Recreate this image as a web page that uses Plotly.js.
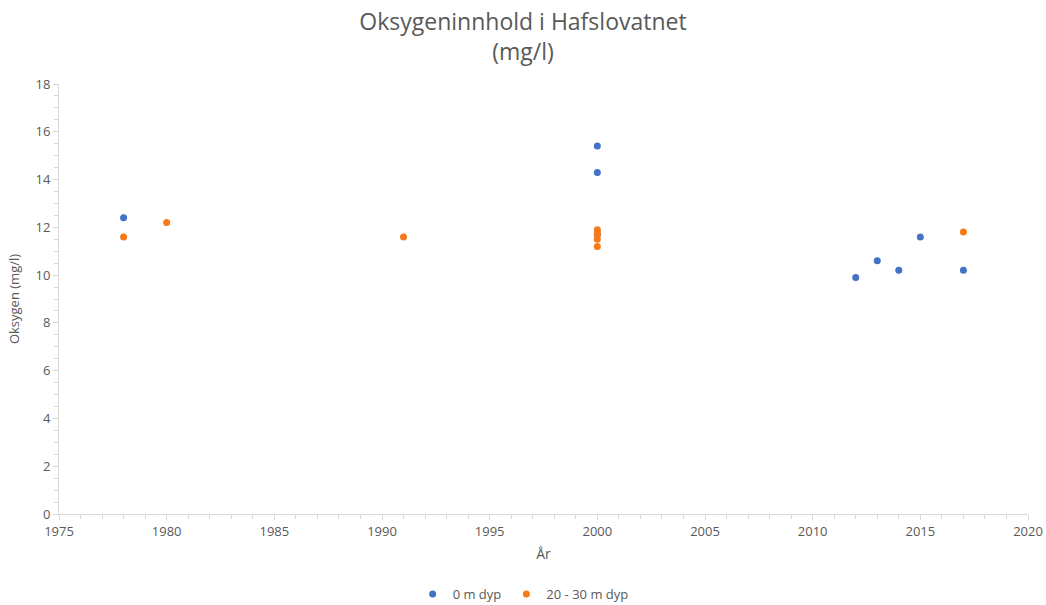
<!DOCTYPE html>
<html>
<head>
<meta charset="utf-8">
<script src="https://cdn.plot.ly/plotly-3.0.1.min.js"></script>
<style>html,body{margin:0;padding:0;background:#fff;}#chart{width:1046px;height:605px;}</style>
</head>
<body>
<div id="chart"></div>
<script>
const surfaceYears = [1978, 2000, 2000, 2000, 2012, 2013, 2014, 2015, 2017];
const surfaceValues = [12.4, 15.4, 14.3, 11.7, 9.9, 10.6, 10.2, 11.6, 10.2];
const deepYears = [1978, 1980, 1991, 2000, 2000, 2000, 2000, 2000, 2017];
const deepValues = [11.6, 12.2, 11.6, 11.9, 11.8, 11.7, 11.5, 11.2, 11.8];
const seriesNames = ["0 m dyp", "20 - 30 m dyp"];
const xTicks = [1975, 1980, 1985, 1990, 1995, 2000, 2005, 2010, 2015, 2020];
const yTicks = [0, 2, 4, 6, 8, 10, 12, 14, 16, 18];

const fontFam = "Open Sans, Lato, sans-serif";
const traces = [
  {x: surfaceYears, y: surfaceValues, name: seriesNames[0], mode: "markers", type: "scatter",
   marker: {color: "#4472C4", size: 7}},
  {x: deepYears, y: deepValues, name: seriesNames[1], mode: "markers", type: "scatter",
   marker: {color: "#F7791A", size: 7}}
];
const axisCommon = {
  showgrid: false, zeroline: false, showline: true, linecolor: "#D9D9D9", linewidth: 1,
  ticks: "outside", tickcolor: "#D9D9D9", ticklen: 5, automargin: false,
  tickfont: {family: fontFam, size: 13, color: "#595959"}
};
const layout = {
  width: 1046, height: 605,
  margin: {l: 59, r: 18, t: 84, b: 91},
  paper_bgcolor: "#fff", plot_bgcolor: "#fff",
  title: {text: "Oksygeninnhold i Hafslovatnet<br>(mg/l)", x: 0.5, xanchor: "center",
          yref: "container", y: 1 - 30/605, yanchor: "middle",
          font: {family: fontFam, size: 23, color: "#595959"}},
  xaxis: Object.assign({}, axisCommon, {range: [1975, 2020], tickvals: xTicks,
          minor: {dtick: 1, ticks: "outside", ticklen: 4, tickcolor: "#D9D9D9"},
          title: {text: "År", font: {family: fontFam, size: 14, color: "#595959"}, standoff: 10}}),
  yaxis: Object.assign({}, axisCommon, {range: [0, 18], tickvals: yTicks,
          minor: {dtick: 0.5, ticks: "outside", ticklen: 4, tickcolor: "#D9D9D9"},
          title: {text: "Oksygen (mg/l)", font: {family: fontFam, size: 13, color: "#595959"}, standoff: 12}}),
  showlegend: true,
  legend: {orientation: "h", x: 0.479, xanchor: "center", yref: "container", y: 11/605, yanchor: "middle",
           font: {family: fontFam, size: 13, color: "#595959"}, itemwidth: 30}
};
Plotly.newPlot("chart", traces, layout, {displayModeBar: false});
</script>
</body>
</html>
